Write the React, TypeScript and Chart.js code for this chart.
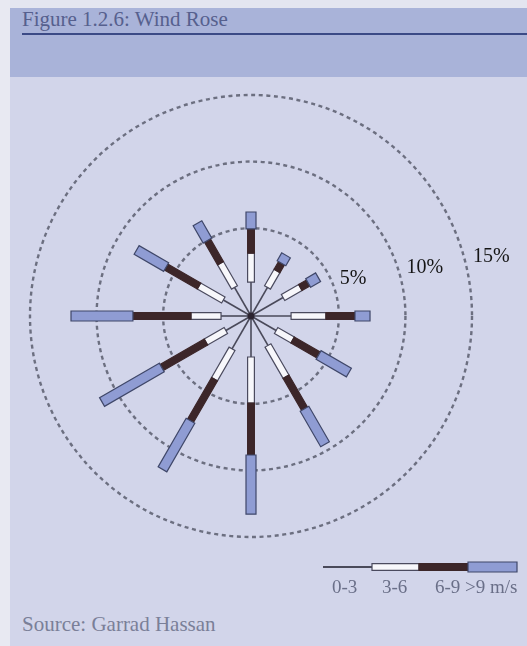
import React, { useEffect, useRef } from "react";
import { Chart, registerables } from "chart.js";

Chart.register(...registerables);

// Wind directions (clockwise from north, every 30°)
const directions = ["N", "30°", "60°", "E", "120°", "150°", "S", "210°", "240°", "W", "300°", "330°"];
// Speed bands
const speedBands = ["0-3", "3-6", "6-9", ">9 m/s"];
// Frequency (%) per speed band, per direction
const band0to3 = [0.95, 0.88, 1.18, 1.41, 0.58, 0.95, 1.48, 1.25, 0.58, 0.65, 0.8, 0.88];
const band3to6 = [2.18, 1.43, 1.5, 2.62, 1.43, 2.71, 3.46, 2.63, 1.73, 2.26, 2.11, 2.1];
const band6to9 = [1.81, 0.67, 0.68, 2.18, 2.25, 2.78, 3.9, 3.61, 3.83, 4.36, 2.85, 1.96];
const bandOver9 = [1.27, 0.68, 0.86, 1.13, 2.63, 3.08, 4.44, 4.21, 5.18, 4.65, 2.56, 1.5];
// Rings
const ringValues = [5, 10, 15];
const ringLabels = ["5%", "10%", "15%"];

const SEG_HALF = [0.8, 3.4, 3.4, 5];
const SEG_FILL = ["#4a4a5a", "#f7f7fb", "#3c2629", "#8f9cd3"];
const SEG_STROKE = [null, "#4a4a5e", "#3c2629", "#3f4769"];

function rectAlong(ctx: CanvasRenderingContext2D, x0: number, y0: number, x1: number, y1: number, hw: number) {
  const dx = x1 - x0;
  const dy = y1 - y0;
  const len = Math.hypot(dx, dy) || 1;
  const nx = (-dy / len) * hw;
  const ny = (dx / len) * hw;
  ctx.beginPath();
  ctx.moveTo(x0 + nx, y0 + ny);
  ctx.lineTo(x1 + nx, y1 + ny);
  ctx.lineTo(x1 - nx, y1 - ny);
  ctx.lineTo(x0 - nx, y0 - ny);
  ctx.closePath();
}

const windRosePlugin = {
  id: "windRose",
  beforeDatasetsDraw(chart: any) {
    const scale = chart.scales.r;
    const ctx: CanvasRenderingContext2D = chart.ctx;
    const cx = scale.xCenter;
    const cy = scale.yCenter;

    // dashed rings
    ctx.save();
    ctx.strokeStyle = "#6c6f80";
    ctx.lineWidth = 2.4;
    ctx.setLineDash([4, 3.6]);
    ringValues.forEach((v) => {
      const r = scale.getDistanceFromCenterForValue(v);
      ctx.beginPath();
      ctx.arc(cx, cy, r, 0, Math.PI * 2);
      ctx.stroke();
    });
    ctx.restore();

    // ring labels
    ctx.save();
    ctx.fillStyle = "#151515";
    ctx.font = "20px 'Liberation Serif', serif";
    ctx.textBaseline = "middle";
    ctx.textAlign = "left";
    ringValues.forEach((v, k) => {
      const r = scale.getDistanceFromCenterForValue(v);
      ctx.fillText(ringLabels[k], cx + r + 1, cy - 22 - 0.17 * r);
    });
    ctx.restore();

    // bars
    const sets = chart.data.datasets;
    const n = chart.data.labels.length;
    const segs: { i: number; k: number; r0: number; r1: number }[] = [];
    for (let i = 0; i < n; i++) {
      let cum = 0;
      let prevR = scale.getDistanceFromCenterForValue(scale.min);
      for (let k = 0; k < sets.length; k++) {
        cum += sets[k].data[i];
        const r1 = scale.getDistanceFromCenterForValue(cum);
        segs.push({ i, k, r0: prevR, r1 });
        prevR = r1;
      }
    }
    ctx.save();
    // thin lines first
    segs.filter((s) => s.k === 0).forEach((s) => {
      const p0 = scale.getPointPosition(s.i, s.r0);
      const p1 = scale.getPointPosition(s.i, s.r1 + 2);
      ctx.strokeStyle = SEG_FILL[0];
      ctx.lineWidth = SEG_HALF[0] * 2;
      ctx.beginPath();
      ctx.moveTo(p0.x, p0.y);
      ctx.lineTo(p1.x, p1.y);
      ctx.stroke();
    });
    segs.filter((s) => s.k > 0).forEach((s) => {
      const p0 = scale.getPointPosition(s.i, s.r0);
      const p1 = scale.getPointPosition(s.i, s.r1);
      rectAlong(ctx, p0.x, p0.y, p1.x, p1.y, SEG_HALF[s.k]);
      ctx.fillStyle = SEG_FILL[s.k];
      ctx.fill();
      const st = SEG_STROKE[s.k];
      if (st) {
        ctx.strokeStyle = st;
        ctx.lineWidth = 1.2;
        ctx.stroke();
      }
    });
    // hub
    ctx.fillStyle = "#2c2430";
    ctx.beginPath();
    ctx.arc(cx, cy, 3.5, 0, Math.PI * 2);
    ctx.fill();
    ctx.restore();

    // legend (bottom right)
    const ly = 567;
    const lx = [323, 372, 419, 468, 517];
    ctx.save();
    ctx.strokeStyle = SEG_FILL[0];
    ctx.lineWidth = 1.8;
    ctx.beginPath();
    ctx.moveTo(lx[0], ly);
    ctx.lineTo(lx[1], ly);
    ctx.stroke();
    for (let k = 1; k < 4; k++) {
      rectAlong(ctx, lx[k], ly, lx[k + 1], ly, SEG_HALF[k]);
      ctx.fillStyle = SEG_FILL[k];
      ctx.fill();
      const st = SEG_STROKE[k];
      if (st) {
        ctx.strokeStyle = st;
        ctx.lineWidth = 1.2;
        ctx.stroke();
      }
    }
    ctx.fillStyle = "#6a6f88";
    ctx.font = "19px 'Liberation Serif', serif";
    ctx.textBaseline = "middle";
    ctx.textAlign = "left";
    const labelX = [332, 382, 435, 465];
    speedBands.forEach((t, k) => ctx.fillText(t, labelX[k], 588));
    ctx.restore();
  },
};

export default function App() {
  const canvasRef = useRef<HTMLCanvasElement | null>(null);

  useEffect(() => {
    if (!canvasRef.current) return;
    const chart = new Chart(canvasRef.current, {
      type: "radar",
      data: {
        labels: directions,
        datasets: [band0to3, band3to6, band6to9, bandOver9].map((d, k) => ({
          label: speedBands[k],
          data: d,
          borderWidth: 0,
          pointRadius: 0,
          pointHoverRadius: 0,
          backgroundColor: "rgba(0,0,0,0)",
          borderColor: "rgba(0,0,0,0)",
          fill: false,
        })),
      },
      options: {
        responsive: false,
        animation: false,
        layout: { padding: { left: 30, top: 95, right: 55, bottom: 109 } },
        plugins: {
          legend: { display: false },
          tooltip: { enabled: false },
          title: { display: false },
        },
        scales: {
          r: {
            min: -1.6,
            max: 15,
            startAngle: 0,
            ticks: { display: false },
            grid: { display: false },
            angleLines: { display: false },
            pointLabels: { display: false },
          },
        },
      },
      plugins: [windRosePlugin],
    } as any);
    return () => chart.destroy();
  }, []);

  const serif = "'Liberation Serif', 'Times New Roman', serif";
  return (
    <div style={{ position: "absolute", left: 0, top: 0, width: 527, height: 646, overflow: "hidden", background: "#d2d5ea" }}>
      <div style={{ position: "absolute", left: 0, top: 0, width: 527, height: 8, background: "#e3e5f0" }} />
      <div style={{ position: "absolute", left: 10, top: 8, width: 517, height: 69, background: "#a9b3d9" }} />
      <div style={{ position: "absolute", left: 0, top: 0, width: 10, height: 646, background: "#e8e9f2" }} />
      <div style={{ position: "absolute", left: 22, top: 33, width: 505, height: 2, background: "#3b4a86" }} />
      <div style={{ position: "absolute", left: 22, top: 9, fontFamily: serif, fontSize: 21, lineHeight: "21px", color: "#56608e", whiteSpace: "nowrap" }}>
        Figure 1.2.6: Wind Rose
      </div>
      <div style={{ position: "absolute", left: 22, top: 614, fontFamily: serif, fontSize: 21, lineHeight: "21px", color: "#7a7f98", whiteSpace: "nowrap" }}>
        Source: Garrad Hassan
      </div>
      <canvas ref={canvasRef} width={527} height={646} style={{ position: "absolute", left: 0, top: 0, width: 527, height: 646 }} />
    </div>
  );
}
